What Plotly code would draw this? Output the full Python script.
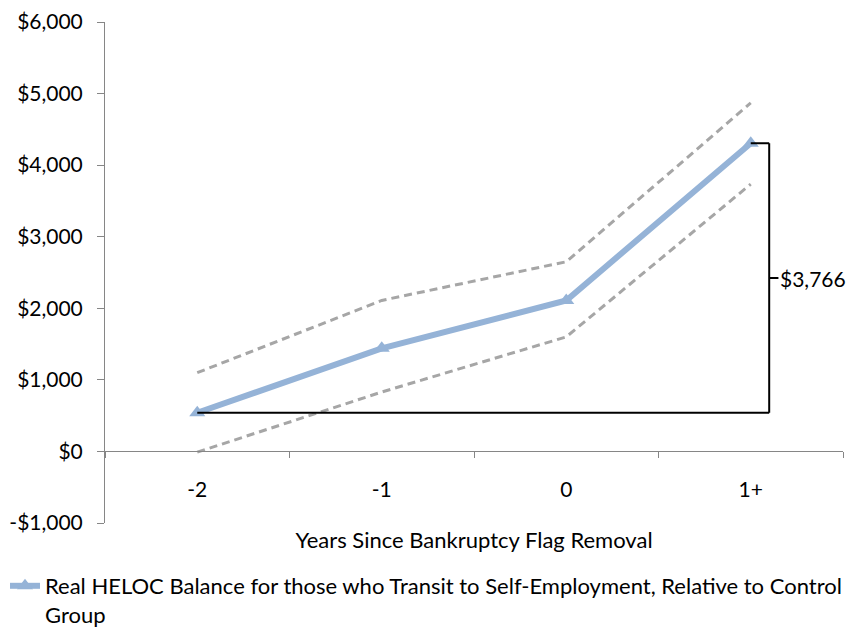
import plotly.graph_objects as go

# Categories and estimated series (real HELOC balance, relative to control group)
years = ["-2", "-1", "0", "1+"]
heloc = [540, 1440, 2110, 4306]
upper_ci = [1100, 2110, 2650, 4870]
lower_ci = [-10, 830, 1600, 3735]

y_ticks = [-1000, 0, 1000, 2000, 3000, 4000, 5000, 6000]
y_tick_labels = ["-$1,000", "$0", "$1,000", "$2,000", "$3,000", "$4,000", "$5,000", "$6,000"]

FONT = "Lato"
BLUE = "#95B3D7"
GRAY = "#A6A6A6"
AXIS = "#868686"

fig = go.Figure()

for ci in (upper_ci, lower_ci):
    fig.add_trace(go.Scatter(
        x=years, y=ci, mode="lines", showlegend=False, hoverinfo="skip",
        line=dict(color=GRAY, width=3, dash="8px,5px"),
    ))

fig.add_trace(go.Scatter(
    x=years, y=heloc, mode="lines+markers",
    name="Real HELOC Balance for those who Transit to Self-Employment, Relative to Control<br>Group",
    line=dict(color=BLUE, width=6),
    marker=dict(symbol="triangle-up", size=14, color=BLUE),
))

# Bracket showing the change from the first to the last period
base, top = heloc[0], heloc[-1]
diff = top - base
mid = (base + top) / 2
xb = len(years) - 1 + 0.10
bracket = dict(type="line", xref="x", yref="y", line=dict(color="black", width=2))
fig.add_shape(**bracket, x0=0, x1=xb, y0=base, y1=base)
fig.add_shape(**bracket, x0=xb, x1=xb, y0=base, y1=top)
fig.add_shape(**bracket, x0=len(years) - 1, x1=xb, y0=top, y1=top)
fig.add_shape(**bracket, x0=xb, x1=xb + 0.05, y0=mid, y1=mid)
fig.add_annotation(
    x=xb + 0.05, y=mid, xref="x", yref="y", text=f"${diff:,.0f}",
    showarrow=False, xanchor="left", yanchor="middle",
    font=dict(family=FONT, size=21, color="black"),
)

fig.update_layout(
    width=847, height=629,
    margin=dict(l=105, r=4, t=22, b=106, autoexpand=False),
    paper_bgcolor="white", plot_bgcolor="white",
    font=dict(family=FONT, size=21, color="black"),
    showlegend=True,
    legend=dict(
        orientation="h", xref="container", yref="container",
        x=5 / 847, y=1 - 565 / 629, xanchor="left", yanchor="top",
        font=dict(family=FONT, size=22, color="black"),
        itemwidth=30, tracegroupgap=0, valign="top",
    ),
)

fig.update_xaxes(
    type="category", range=[-0.5, 3.5],
    anchor="free", position=1000 / 7000, automargin=False,
    showline=True, linecolor=AXIS, linewidth=1,
    ticks="outside", tickson="boundaries", ticklen=6, tickcolor=AXIS,
    ticklabelstandoff=19, showgrid=False, zeroline=False,
    tickfont=dict(family=FONT, size=21, color="black"),
    title=dict(text="Years Since Bankruptcy Flag Removal", standoff=32,
               font=dict(family=FONT, size=22, color="black")),
)

fig.update_yaxes(
    range=[-1000, 6000], tickvals=y_ticks, ticktext=y_tick_labels,
    showline=True, linecolor=AXIS, linewidth=1, automargin=False,
    ticks="outside", ticklen=7, tickcolor=AXIS, ticklabelstandoff=10,
    showgrid=False, zeroline=False,
    tickfont=dict(family=FONT, size=21, color="black"),
)

fig.write_html("out.html")
